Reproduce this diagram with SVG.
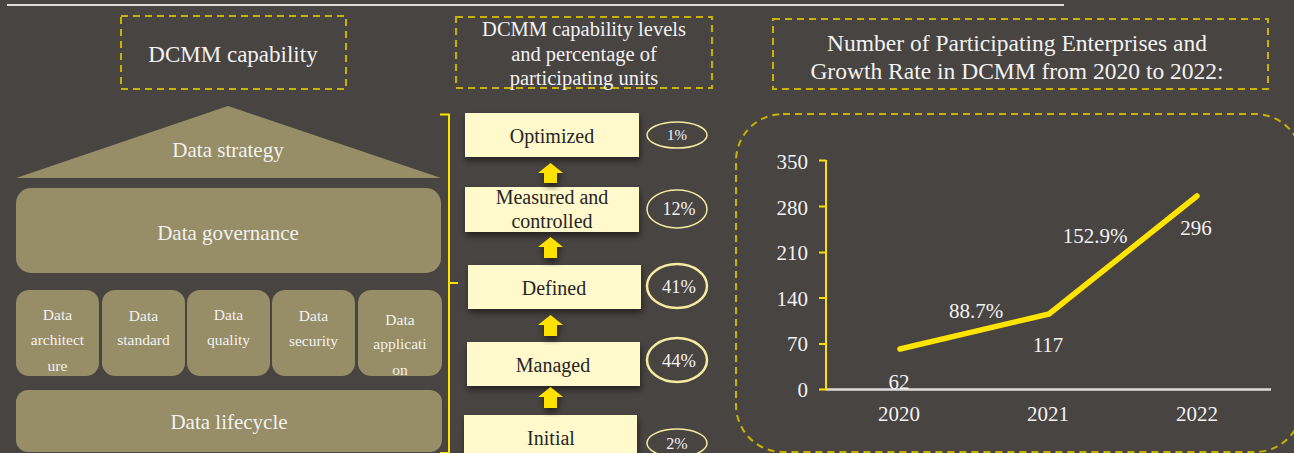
<svg xmlns="http://www.w3.org/2000/svg" width="1294" height="453" viewBox="0 0 1294 453">
<defs>
<filter id="sh" x="-20%" y="-30%" width="140%" height="170%">
<feDropShadow dx="1" dy="4" stdDeviation="3" flood-color="#000" flood-opacity="0.5"/>
</filter>
<style>
text{font-family:"Liberation Serif","Times New Roman",serif;}
.w{fill:#F2F2F2;text-anchor:middle;}
.d{fill:#262626;text-anchor:middle;font-size:20px;}
.dash{fill:none;stroke:#C9B300;stroke-width:2;stroke-dasharray:7 5;}
.tan{fill:#978D66;}
.lvl{fill:#FFF9CC;filter:url(#sh);}
.arr{fill:#FFE100;filter:url(#sh);}
.ell{fill:none;stroke:#F6EBA0;}
.pct{fill:#F2F2F2;text-anchor:middle;}
.ax{fill:#F2F2F2;font-size:21px;}
</style>
</defs>
<rect width="1294" height="453" fill="#484442"/>
<line x1="7" y1="5" x2="1064" y2="5" stroke="#DADADA" stroke-width="2"/>

<!-- Left panel -->
<g id="title-left">
<rect class="dash" x="121" y="16" width="225" height="73"/>
<text class="w" x="233" y="62" font-size="23">DCMM capability</text>
</g>
<g id="data-strategy">
<polygon class="tan" points="228,106 441,178 16,178"/>
<text class="w" x="228" y="157" font-size="21">Data strategy</text>
</g>
<g id="data-governance">
<rect class="tan" x="16" y="188" width="425" height="85" rx="15"/>
<text class="w" x="228" y="240" font-size="21">Data governance</text>
</g>
<g id="data-architecture">
<rect class="tan" x="16" y="290" width="83" height="86" rx="13"/>
<text class="w" x="57.5" y="320" font-size="15.5">Data</text>
<text class="w" x="57.5" y="345" font-size="15.5">architect</text>
<text class="w" x="57.5" y="371" font-size="15.5">ure</text>
</g>
<g id="data-standard">
<rect class="tan" x="102" y="290" width="83" height="86" rx="13"/>
<text class="w" x="143.5" y="321" font-size="15.5">Data</text>
<text class="w" x="143.5" y="345" font-size="15.5">standard</text>
</g>
<g id="data-quality">
<rect class="tan" x="187" y="290" width="83" height="86" rx="13"/>
<text class="w" x="228.5" y="320" font-size="15.5">Data</text>
<text class="w" x="228.5" y="345" font-size="15.5">quality</text>
</g>
<g id="data-security">
<rect class="tan" x="272" y="290" width="83" height="86" rx="13"/>
<text class="w" x="313.5" y="321" font-size="15.5">Data</text>
<text class="w" x="313.5" y="346" font-size="15.5">security</text>
</g>
<g id="data-application">
<rect class="tan" x="358" y="290" width="84" height="86" rx="13"/>
<text class="w" x="400" y="325" font-size="15.5">Data</text>
<text class="w" x="400" y="349" font-size="15.5">applicati</text>
<text class="w" x="400" y="375" font-size="15.5">on</text>
</g>
<g id="data-lifecycle">
<rect class="tan" x="16" y="390" width="426" height="62" rx="12"/>
<text class="w" x="229" y="429" font-size="21">Data lifecycle</text>
</g>

<!-- Middle panel -->
<g id="title-middle">
<rect class="dash" x="456" y="17" width="256" height="71"/>
<text class="w" x="584" y="36" font-size="20.5">DCMM capability levels</text>
<text class="w" x="584" y="61" font-size="20.5">and percentage of</text>
<text class="w" x="584" y="85" font-size="20.5">participating units</text>
</g>
<g id="brace">
<path d="M440,114.5 H449 V453 H440 M449,283 H458" fill="none" stroke="#FFE100" stroke-width="2"/>
</g>
<g id="optimized">
<rect class="lvl" x="465" y="113" width="174" height="44"/>
<text class="d" x="552" y="143">Optimized</text>
</g>
<g id="measured">
<rect class="lvl" x="465" y="187" width="174" height="45"/>
<text class="d" x="552" y="204">Measured and</text>
<text class="d" x="552" y="228">controlled</text>
</g>
<g id="defined">
<rect class="lvl" x="468" y="265" width="173" height="44"/>
<text class="d" x="554" y="295">Defined</text>
</g>
<g id="managed">
<rect class="lvl" x="467" y="342" width="173" height="44"/>
<text class="d" x="553" y="372">Managed</text>
</g>
<g id="initial">
<rect class="lvl" x="464" y="415" width="173" height="44"/>
<text class="d" x="551" y="445">Initial</text>
</g>
<g id="connectors">
<path class="arr" d="M550.5,163 L563,173 H557 V183 H544 V173 H538 Z"/>
<path class="arr" d="M550.5,237 L563,247 H557 V258 H544 V247 H538 Z"/>
<path class="arr" d="M550.5,315 L563,325 H557 V336 H544 V325 H538 Z"/>
<path class="arr" d="M550.5,387 L563,397 H557 V408 H544 V397 H538 Z"/>
</g>
<g id="pct-1">
<ellipse class="ell" cx="677" cy="135" rx="30" ry="13" stroke-width="1.5"/>
<text class="pct" x="677" y="140" font-size="15">1%</text>
</g>
<g id="pct-12">
<ellipse class="ell" cx="677" cy="209" rx="30" ry="19" stroke-width="1.5"/>
<text class="pct" x="679" y="215" font-size="18">12%</text>
</g>
<g id="pct-41">
<ellipse class="ell" cx="677" cy="286" rx="30" ry="22" stroke-width="2.5"/>
<text class="pct" x="679" y="293" font-size="18.5">41%</text>
</g>
<g id="pct-44">
<ellipse class="ell" cx="677" cy="360" rx="30" ry="22" stroke-width="2.5"/>
<text class="pct" x="679" y="367" font-size="18.5">44%</text>
</g>
<g id="pct-2">
<ellipse class="ell" cx="677" cy="443" rx="30" ry="14" stroke-width="1.5"/>
<text class="pct" x="677" y="449" font-size="16">2%</text>
</g>

<!-- Right panel -->
<g id="title-right">
<rect class="dash" x="773" y="19" width="495" height="70"/>
<text class="w" x="1017" y="51" font-size="23.5">Number of Participating Enterprises and</text>
<text class="w" x="1017" y="79" font-size="23.5">Growth Rate in DCMM from 2020 to 2022:</text>
</g>
<g id="chart">
<rect class="dash" x="736" y="114" width="566" height="338" rx="47"/>
<line x1="826" y1="389.5" x2="1271" y2="389.5" stroke="#DCDCDC" stroke-width="2.5"/>
<path d="M826,160 V390 M819,160.5 H826 M819,206.5 H826 M819,252.5 H826 M819,298 H826 M819,344 H826 M819,389.5 H826" fill="none" stroke="#FFE100" stroke-width="2"/>
<g class="ax" text-anchor="end">
<text x="808" y="169">350</text>
<text x="808" y="215">280</text>
<text x="808" y="260">210</text>
<text x="808" y="306">140</text>
<text x="808" y="351">70</text>
<text x="808" y="397">0</text>
</g>
<g class="ax" text-anchor="middle">
<text x="899" y="421">2020</text>
<text x="1048" y="421">2021</text>
<text x="1197" y="421">2022</text>
</g>
<polyline points="900,349 1049,314 1197,196" fill="none" stroke="#FFE400" stroke-width="5.5" stroke-linecap="round" stroke-linejoin="round"/>
<g class="ax" text-anchor="middle">
<text x="899" y="389">62</text>
<text x="1048" y="352">117</text>
<text x="1196" y="235">296</text>
<text x="976" y="318">88.7%</text>
<text x="1095" y="243">152.9%</text>
</g>
</g>
</svg>
